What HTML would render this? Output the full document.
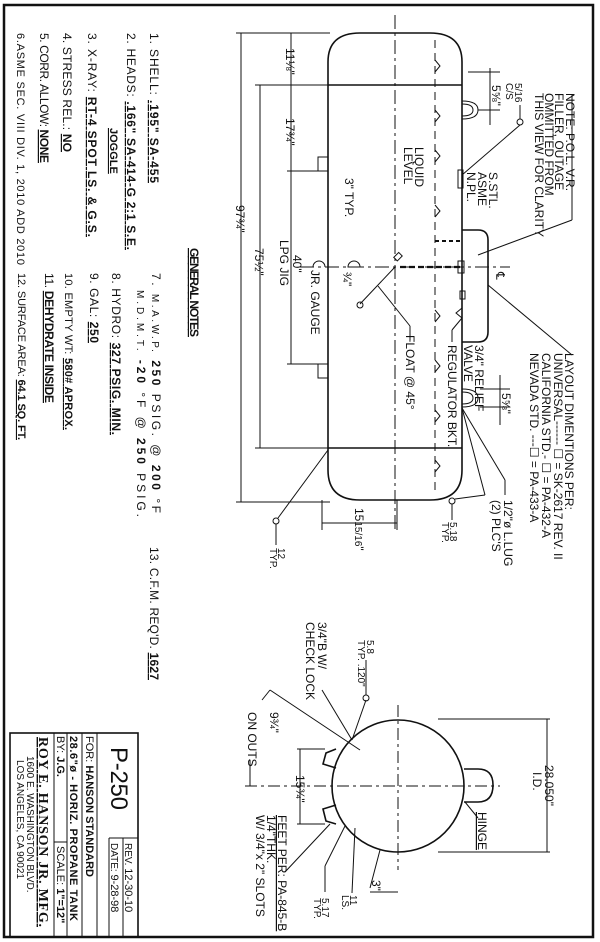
<!DOCTYPE html>
<html><head><meta charset="utf-8"><style>
html,body{margin:0;padding:0;background:#fff;}
svg{display:block;}
text{font-family:"Liberation Sans",sans-serif;font-size:12px;fill:#111;}
.b{font-weight:bold;}
.s{font-size:10px;}
.m{font-size:11px;}
</style></head><body>
<svg width="600" height="942" viewBox="0 0 600 942" xmlns="http://www.w3.org/2000/svg">
<g fill="none" stroke="#111" stroke-width="1">
<rect x="4" y="5" width="589" height="932" stroke-width="2.5"/>
<path d="M328 62 Q328 33 360 33 L430 33 Q462 33 462 62 L462 470 Q462 500 430 500 L360 500 Q328 500 328 470 Z" stroke-width="1.6"/>
<line x1="328" y1="85" x2="462" y2="85" stroke-width="1.4"/>
<line x1="328" y1="448" x2="462" y2="448" stroke-width="1.4"/>
<line x1="395" y1="15" x2="395" y2="530" stroke-dasharray="14,4,3,4"/>
<line x1="300" y1="267" x2="510" y2="267" stroke-dasharray="14,4,3,4"/>
<line x1="435" y1="40" x2="435" y2="495" stroke-dasharray="8,5"/>
<path d="M435 60 l5 6 -5 6 M435 110 l5 6 -5 6 M435 150 l5 6 -5 6 M435 205 l5 6 -5 6 M435 310 l5 6 -5 6 M435 360 l5 6 -5 6 M435 410 l5 6 -5 6 M435 460 l5 6 -5 6"/>
<path d="M462 230 L478 230 Q488 230 488 240 L488 332 Q488 342 478 342 L462 342" stroke-width="1.6"/>
<path d="M462 101 Q478 101 478 110 Q478 119 462 119"/><path d="M462 104 Q473 104 473 110 Q473 116 462 116"/>
<path d="M462 389 Q478 389 478 398 Q478 407 462 407"/><path d="M462 392 Q473 392 473 398 Q473 404 462 404"/>
<rect x="458" y="170" width="5" height="18"/>
<line x1="435" y1="241" x2="462" y2="241" stroke-width="2" stroke-dasharray="4,3"/>
<line x1="400" y1="267" x2="462" y2="267" stroke-width="2.2" stroke-dasharray="6,3"/>
<rect x="458" y="261" width="6" height="12"/><rect x="460" y="291" width="5" height="8"/>
<path d="M462 308 l-6 5 6 5"/>
<rect x="318" y="157" width="10" height="14"/><rect x="318" y="364" width="10" height="14"/>
<line x1="395" y1="267" x2="360" y2="304"/><rect x="396" y="253" width="5" height="7" transform="rotate(45 398 256)"/>
<circle cx="360" cy="305" r="3"/>
<line x1="378" y1="286" x2="410" y2="326"/><line x1="410" y1="326" x2="410" y2="340"/>
<path d="M348 267 a6 6 0 0 1 12 0 Z"/>
<path d="M313 267 a6 6 0 0 1 12 0"/>
<line x1="241" y1="33" x2="241" y2="502"/><line x1="236" y1="33" x2="330" y2="33"/><line x1="236" y1="502" x2="330" y2="502"/>
<line x1="260" y1="85" x2="260" y2="448"/><line x1="255" y1="85" x2="330" y2="85"/><line x1="255" y1="448" x2="330" y2="448"/>
<line x1="291" y1="33" x2="291" y2="364"/><line x1="287" y1="171" x2="320" y2="171"/><line x1="287" y1="364" x2="320" y2="364"/>
<line x1="322" y1="500" x2="322" y2="530"/><line x1="397" y1="500" x2="397" y2="530"/><line x1="322" y1="523" x2="397" y2="523"/>
<line x1="328" y1="450" x2="278" y2="518"/><circle cx="276" cy="521" r="3"/><line x1="276" y1="524" x2="276" y2="545"/>
<line x1="462" y1="408" x2="485" y2="495"/><line x1="462" y1="408" x2="505" y2="480"/><line x1="505" y1="480" x2="505" y2="495"/><circle cx="452" cy="501" r="3"/>
<line x1="485" y1="495" x2="455" y2="499"/><line x1="452" y1="504" x2="452" y2="520"/>
<line x1="462" y1="175" x2="520" y2="125"/><circle cx="520" cy="122" r="3"/><line x1="520" y1="119" x2="520" y2="105"/>
<line x1="468" y1="72" x2="500" y2="72"/><line x1="490" y1="68" x2="490" y2="125"/><line x1="478" y1="110" x2="500" y2="110"/>
<line x1="480" y1="389" x2="510" y2="389"/><line x1="500" y1="375" x2="500" y2="425"/><line x1="480" y1="407" x2="510" y2="407"/>
<line x1="478" y1="255" x2="572" y2="220"/><line x1="572" y1="220" x2="572" y2="95"/>
<line x1="488" y1="285" x2="572" y2="355"/>
<line x1="462" y1="318" x2="452" y2="330"/><line x1="452" y1="330" x2="452" y2="342"/>
<circle cx="398" cy="786" r="66" stroke-width="1.6"/>
<line x1="398" y1="705" x2="398" y2="870" stroke-dasharray="12,4,3,4"/>
<line x1="245" y1="786" x2="500" y2="786" stroke-dasharray="12,4,3,4"/>
<path d="M464 769 L478 769 Q493 769 493 785 Q493 802 478 802 L464 802" stroke-width="1.6"/>
<path d="M336 749 L326 753 L323 764 L336 768" stroke-width="1.6"/>
<path d="M336 805 L323 809 L326 821 L336 824" stroke-width="1.6"/>
<line x1="438" y1="719" x2="550" y2="719"/><line x1="438" y1="852" x2="550" y2="852"/><line x1="547" y1="719" x2="547" y2="852"/>
<line x1="297" y1="749" x2="325" y2="749"/><line x1="297" y1="824" x2="325" y2="824"/><line x1="300" y1="749" x2="300" y2="824"/>
<line x1="250" y1="786" x2="250" y2="760"/><line x1="270" y1="690" x2="360" y2="750"/><line x1="270" y1="690" x2="262" y2="700"/>
<line x1="352" y1="740" x2="322" y2="690"/>
<line x1="352" y1="740" x2="366" y2="700"/><circle cx="366" cy="698" r="3"/><line x1="366" y1="695" x2="366" y2="660"/>
<line x1="330" y1="824" x2="285" y2="872"/><line x1="345" y1="826" x2="325" y2="866"/><line x1="325" y1="866" x2="325" y2="892"/>
<line x1="355" y1="828" x2="352" y2="893"/><line x1="380" y1="850" x2="370" y2="888"/><line x1="398" y1="892" x2="370" y2="892"/>
<line x1="465" y1="802" x2="478" y2="818"/>
<rect x="10" y="733" width="128" height="204" stroke-width="1.6"/>
<line x1="97" y1="733" x2="97" y2="937"/><line x1="82" y1="733" x2="82" y2="937"/>
<line x1="67" y1="733" x2="67" y2="937"/><line x1="54" y1="733" x2="54" y2="937"/>
<line x1="109" y1="838" x2="109" y2="937"/><line x1="123" y1="838" x2="123" y2="937"/><line x1="109" y1="838" x2="138" y2="838"/>
<line x1="54" y1="842" x2="67" y2="842"/>
</g>
<g>
<text transform="translate(150,33) rotate(90)" textLength="150" lengthAdjust="spacing">1.  SHELL:  <tspan class="b" text-decoration="underline">.195" SA-455</tspan></text>
<text transform="translate(127,33) rotate(90)" textLength="217" lengthAdjust="spacing">2.  HEADS:  <tspan class="b" text-decoration="underline">.166" SA-414-G 2:1 S.E.</tspan></text>
<text transform="translate(110,128) rotate(90)" class="b m" text-decoration="underline">JOGGLE</text>
<text transform="translate(88,33) rotate(90)" textLength="204" lengthAdjust="spacing">3.  X-RAY:  <tspan class="b" text-decoration="underline">RT-4 SPOT LS. &amp; G.S.</tspan></text>
<text transform="translate(63,33) rotate(90)" textLength="119" lengthAdjust="spacing">4.  STRESS  REL.:  <tspan class="b" text-decoration="underline">NO</tspan></text>
<text transform="translate(40,33) rotate(90)" textLength="130" lengthAdjust="spacing">5.  CORR.  ALLOW:  <tspan class="b" text-decoration="underline">NONE</tspan></text>
<text transform="translate(17,33) rotate(90)" class="m" textLength="232" lengthAdjust="spacing">6.ASME SEC. VIII DIV. 1, 2010 ADD 2010</text>
<text transform="translate(190,248) rotate(90)" class="b" text-decoration="underline" textLength="89">GENERAL NOTES</text>
<text transform="translate(152,273) rotate(90)" textLength="240" lengthAdjust="spacing">7.  <tspan class="s">M.A.W.P.</tspan>     <tspan class="b">250</tspan>  PSIG.  @   <tspan class="b">200</tspan>  °F</text>
<text transform="translate(137,290) rotate(90)" textLength="227" lengthAdjust="spacing"><tspan class="s">M.D.M.T.</tspan>      <tspan class="b">-20</tspan>  °F  @       <tspan class="b">250</tspan>  PSIG.</text>
<text transform="translate(112,273) rotate(90)" textLength="162" lengthAdjust="spacing">8.  HYDRO:  <tspan class="b" text-decoration="underline">327 PSIG. MIN.</tspan></text>
<text transform="translate(90,273) rotate(90)" textLength="70" lengthAdjust="spacing">9.  GAL:  <tspan class="b" text-decoration="underline">250</tspan></text>
<text transform="translate(65,273) rotate(90)" class="m" textLength="157" lengthAdjust="spacing">10. EMPTY WT: <tspan class="b" text-decoration="underline">580# APROX.</tspan></text>
<text transform="translate(45,273) rotate(90)" textLength="130" lengthAdjust="spacing">11.  <tspan class="b" text-decoration="underline">DEHYDRATE INSIDE</tspan></text>
<text transform="translate(18,273) rotate(90)" class="m" textLength="167" lengthAdjust="spacing">12. SURFACE AREA: <tspan class="b" text-decoration="underline">64.1 SQ. FT.</tspan></text>
<text transform="translate(150,547) rotate(90)" textLength="133" lengthAdjust="spacing">13.  C.F.M.  REQ'D.  <tspan class="b" text-decoration="underline">1627</tspan></text>
<text transform="translate(236,205) rotate(90)">97¾"</text>
<text transform="translate(255,248) rotate(90)">75½"</text>
<text transform="translate(286,48) rotate(90)">11⅛"</text>
<text transform="translate(286,118) rotate(90)">17¾"</text>
<text transform="translate(293,255) rotate(90)">40"</text>
<text transform="translate(280,240) rotate(90)">LPG  JIG</text>
<text transform="translate(311,270) rotate(90)">JR.  GAUGE</text>
<text transform="translate(343,272) rotate(90)">¾"</text>
<text transform="translate(345,178) rotate(90)">3"  TYP.</text>
<text transform="translate(415,147) rotate(90)">LIQUID</text>
<text transform="translate(404,147) rotate(90)">LEVEL</text>
<text transform="translate(406,335) rotate(90)">FLOAT  @  45°</text>
<text transform="translate(448,345) rotate(90)">REGULATOR  BKT.</text>
<text transform="translate(475,345) rotate(90)">3/4"  RELIEF</text>
<text transform="translate(464,345) rotate(90)">VALVE</text>
<text transform="translate(489,172) rotate(90)">S.STL.</text>
<text transform="translate(478,172) rotate(90)">ASME</text>
<text transform="translate(467,172) rotate(90)">N.PL.</text>
<text transform="translate(492,85) rotate(90)">5⅝"</text>
<text transform="translate(502,393) rotate(90)">5⅝"</text>
<text transform="translate(515,83) rotate(90)" class="s">5/16</text>
<text transform="translate(506,83) rotate(90)" class="s">C/S</text>
<text transform="translate(496,272) rotate(90)">℄</text>
<text transform="translate(566,93) rotate(90)">NOTE:  P.O.L.  V.R.</text>
<text transform="translate(555,93) rotate(90)">FILLER,  OUTAGE</text>
<text transform="translate(545,93) rotate(90)">OMMITTED  FROM</text>
<text transform="translate(535,93) rotate(90)">THIS  VIEW  FOR  CLARITY</text>
<text transform="translate(565,353) rotate(90)">LAYOUT  DIMENTIONS  PER:</text>
<text transform="translate(554,353) rotate(90)">UNIVERSAL------ ☐ = SK-2617  REV. II</text>
<text transform="translate(542,353) rotate(90)">CALIFORNIA  STD.- ☐ = PA-432-A</text>
<text transform="translate(530,353) rotate(90)">NEVADA  STD.  ---☐ = PA-433-A</text>
<text transform="translate(504,500) rotate(90)">1/2"ø  L.LUG</text>
<text transform="translate(492,500) rotate(90)">(2)  PLC'S</text>
<text transform="translate(450,522) rotate(90)" class="s">5.18</text>
<text transform="translate(442,522) rotate(90)" class="s">TYP.</text>
<text transform="translate(355,508) rotate(90)">15<tspan class="s">15/16</tspan>"</text>
<text transform="translate(278,548) rotate(90)" class="s">12</text>
<text transform="translate(270,548) rotate(90)" class="s">TYP.</text>
<text transform="translate(545,765) rotate(90)">28.050"</text>
<text transform="translate(533,772) rotate(90)">I.D.</text>
<text transform="translate(478,812) rotate(90)" text-decoration="underline">HINGE</text>
<text transform="translate(270,712) rotate(90)">9¾"</text>
<text transform="translate(248,712) rotate(90)">ON  OUTS</text>
<text transform="translate(296,775) rotate(90)">15¾"</text>
<text transform="translate(318,622) rotate(90)">3/4"B  W/</text>
<text transform="translate(306,622) rotate(90)">CHECK  LOCK</text>
<text transform="translate(367,640) rotate(90)" class="s">5.8</text>
<text transform="translate(358,640) rotate(90)" class="s">TYP. .120"</text>
<text transform="translate(278,815) rotate(90)" text-decoration="underline">FEET  PER:  PA-845-B</text>
<text transform="translate(267,815) rotate(90)">1/4"THK.</text>
<text transform="translate(256,815) rotate(90)">W/  3/4"x  2"  SLOTS</text>
<text transform="translate(322,898) rotate(90)" class="s">5.17</text>
<text transform="translate(314,898) rotate(90)" class="s">TYP.</text>
<text transform="translate(350,895) rotate(90)" class="s">11</text>
<text transform="translate(342,895) rotate(90)" class="s">LS.</text>
<text transform="translate(372,880) rotate(90)">3"</text>
<text transform="translate(111,747) rotate(90)" style="font-size:24px" textLength="63">P-250</text>
<text transform="translate(125,843) rotate(90)" class="s">REV.   <tspan style="font-size:11px">12-30-10</tspan></text>
<text transform="translate(111,843) rotate(90)" class="s">DATE:  <tspan style="font-size:11px">9-28-98</tspan></text>
<text transform="translate(86,736) rotate(90)" style="font-size:11px">FOR: <tspan class="b">HANSON STANDARD</tspan></text>
<text transform="translate(70,736) rotate(90)" class="b" style="font-size:11px" textLength="185" lengthAdjust="spacing">28.6"ø  -  HORIZ.  PROPANE  TANK</text>
<text transform="translate(57,736) rotate(90)" style="font-size:11px">BY: <tspan class="b">J.G.</tspan></text>
<text transform="translate(57,846) rotate(90)" style="font-size:11px">SCALE: <tspan class="b">1"=12"</tspan></text>
<text transform="translate(39,737) rotate(90)" style="font-family:'Liberation Serif',serif;font-size:14px;font-weight:bold" text-decoration="underline" textLength="190" lengthAdjust="spacing">ROY E. HANSON JR. MFG.</text>
<text transform="translate(27,756) rotate(90)" class="s">1600  E.  WASHINGTON  BLVD.</text>
<text transform="translate(17,760) rotate(90)" class="s">LOS  ANGELES,  CA  90021</text>
</g>
</svg>
</body></html>
